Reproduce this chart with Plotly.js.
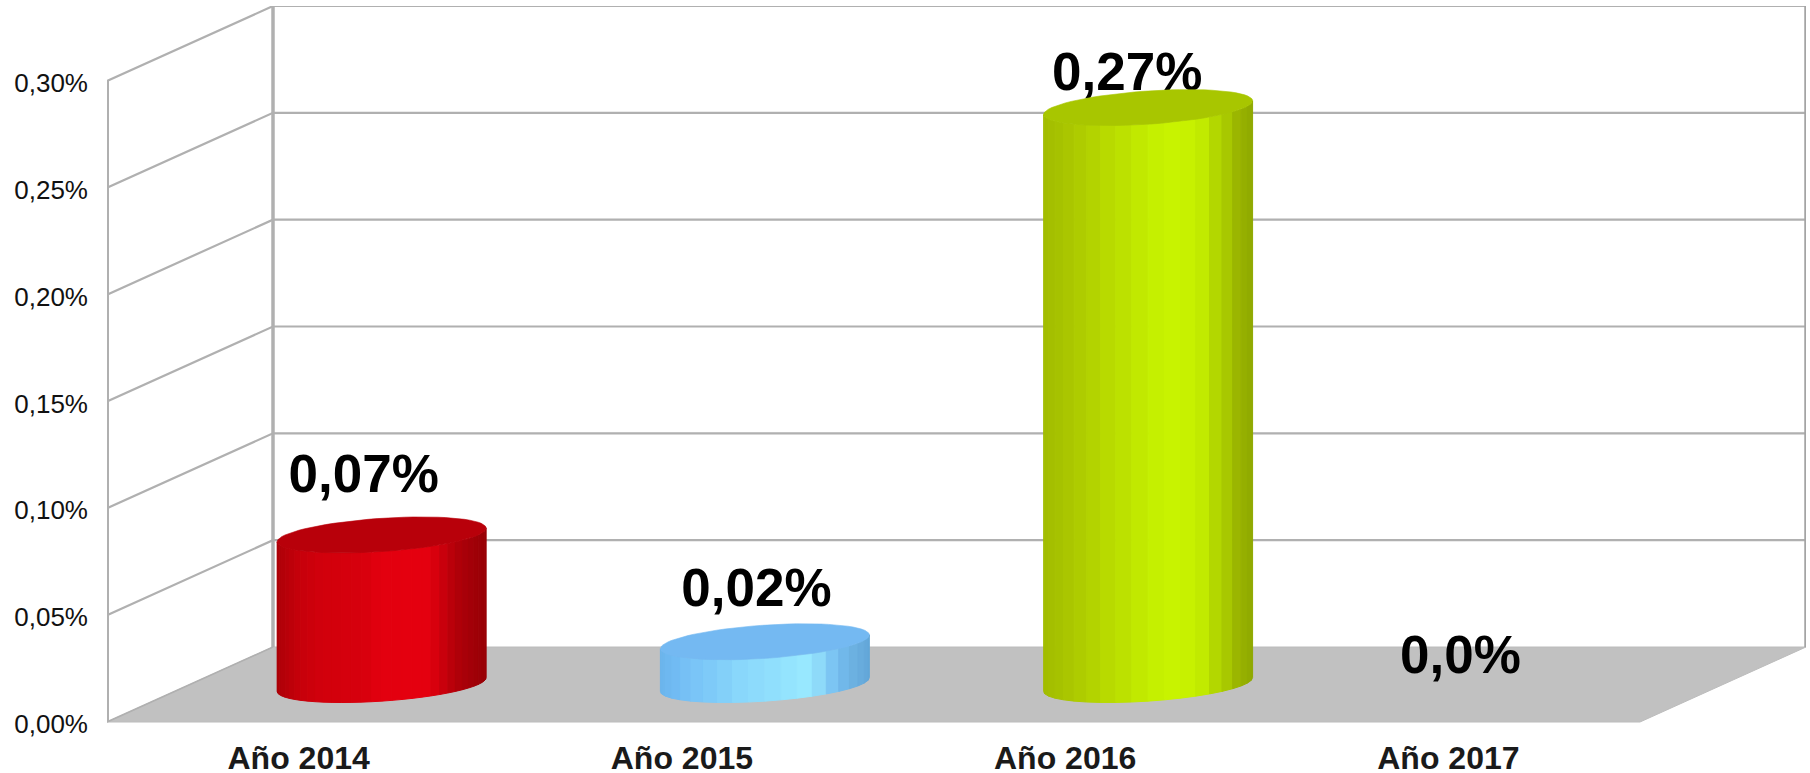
<!DOCTYPE html>
<html>
<head>
<meta charset="utf-8">
<script src="https://cdn.plot.ly/plotly-3.0.1.min.js"></script>
<style>html,body{margin:0;padding:0;background:#fff;}#chart{width:1810px;height:773px;}</style>
</head>
<body>
<div id="chart"></div>
<script>
// ---- data ----
const categories = ['Año 2014', 'Año 2015', 'Año 2016', 'Año 2017'];
const values = [0.07, 0.02, 0.27, 0];
const valueLabels = ['0,07%', '0,02%', '0,27%', '0,0%'];
const tickValues = [0, 0.05, 0.10, 0.15, 0.20, 0.25, 0.30];
const tickLabels = ['0,00%', '0,05%', '0,10%', '0,15%', '0,20%', '0,25%', '0,30%'];

// ---- styles ----
const topColors = ['#b8000a', '#74b9f2', '#a8c600', null];
const ramps = [
  [[0,'#ac0008'],[0.1,'#c4000a'],[0.2,'#d0000c'],[0.42,'#d8000d'],[0.5,'#e3000f'],[0.72,'#e4000f'],[0.78,'#d0000c'],[0.85,'#b4000a'],[0.92,'#a40008'],[1,'#980006']],
  [[0,'#6ab4ec'],[0.1,'#74bef5'],[0.4,'#8ad8fb'],[0.7,'#98e8ff'],[0.77,'#8cd8f8'],[0.85,'#74bcf0'],[0.93,'#6cb0e0'],[1,'#62a6d8']],
  [[0,'#a2bc00'],[0.1,'#a8c400'],[0.25,'#b4d400'],[0.45,'#c0e800'],[0.58,'#c8f400'],[0.74,'#c6f000'],[0.8,'#b8de00'],[0.88,'#a8c800'],[0.93,'#9ab400'],[1,'#8ea800']],
  null
];
const stripCounts = [32, 20, 20, 0];
const labelOffsetsPx = [[-18, 56.5], [-8.5, 49.5], [-21, 31], [-71, 25]];
const yTickNudgePx = 2;
const belowFloorPx = 4;

// ---- 3D frame (pixels on the page) ----
const frameLeft = 107, frameRight = 1640, frameBottom = 722, frameTop30 = 81;
const depthX = 166, depthY = 75;
const catPx = (frameRight - frameLeft) / categories.length;
const valPx = (frameTop30 - frameBottom) / -0.30;
const ux = p => p / catPx;
const uy = p => p / valPx;
const DX = ux(depthX), DY = uy(depthY);
const xMin = -0.5, xMax = categories.length - 0.5;

const hexToRgb = h => [1,3,5].map(i => parseInt(h.substr(i,2),16));
function rampColor(ramp, p) {
  for (let i = 1; i < ramp.length; i++) {
    if (p <= ramp[i][0]) {
      const a = ramp[i-1], b = ramp[i], f = (p - a[0]) / (b[0] - a[0]);
      const ca = hexToRgb(a[1]), cb = hexToRgb(b[1]);
      return 'rgb(' + ca.map((c,k) => Math.round(c + (cb[k]-c)*f)).join(',') + ')';
    }
  }
  return ramp[ramp.length-1][1];
}

const traces = [];
const gridColor = '#b0b0b0';
const addLine = (x, y, color, width) => traces.push({type:'scatter', mode:'lines', x, y, cliponaxis:false,
  hoverinfo:'skip', line:{color, width}});

// floor
traces.push({type:'scatter', mode:'lines', fill:'toself', fillcolor:'#c1c1c1', cliponaxis:false, hoverinfo:'skip',
  x:[xMin, xMax, xMax+DX, xMin+DX, xMin], y:[0, 0, DY, DY, 0], line:{color:'#bcbcbc', width:1}});

// gridlines: side wall diagonal then back wall horizontal
tickValues.forEach(v => {
  if (v === 0) addLine([xMin, xMin+DX], [0, DY], gridColor, 1.6);
  else addLine([xMin, xMin+DX, xMax+DX], [v, v+DY, v+DY], gridColor, 2.2);
});
// wall verticals
const topTick = tickValues[tickValues.length-1];
addLine([xMin, xMin], [0, topTick], '#b0b0b0', 4);
addLine([xMin+DX, xMin+DX], [DY, topTick+DY], '#b0b0b0', 3.5);
addLine([xMax+DX, xMax+DX], [DY, topTick+DY], '#a4a4a4', 3.5);

// value labels (drawn below the cylinders: the 2016 cap overlaps its label)
traces.push({type:'scatter', mode:'text', cliponaxis:false, hoverinfo:'skip',
  x: values.map((v,i) => i + DX/2 + ux(labelOffsetsPx[i][0])),
  y: values.map((v,i) => v + DY/2 + uy(labelOffsetsPx[i][1])),
  text: valueLabels, textposition:'middle center',
  textfont:{family:'"Liberation Sans", Arial, sans-serif', size:53, color:'#000', weight:700}});

// cylinders
const radius = ux(96.5), halfDx = ux(40), halfDy = uy(18);
const tangent = Math.atan2(40, 96.5);
values.forEach((v, i) => {
  if (!ramps[i]) return;
  const strips = stripCounts[i];
  const cx = i + DX/2, cy = DY/2;
  const ptX = t => cx + radius*Math.cos(t) + halfDx*Math.sin(t);
  const ptY = t => halfDy*Math.sin(t);
  const xLeft = ptX(tangent - Math.PI), xRight = ptX(tangent);
  for (let s = 0; s < strips; s++) {
    const t1 = tangent - Math.PI + Math.PI*s/strips;
    const t2 = tangent - Math.PI + Math.PI*(s+1)/strips;
    const xs = [], ys = [];
    const sub = 4;
    for (let k = 0; k <= sub; k++) { const t = t1+(t2-t1)*k/sub; xs.push(ptX(t)); ys.push(cy+ptY(t)); }
    for (let k = sub; k >= 0; k--) { const t = t1+(t2-t1)*k/sub; xs.push(ptX(t)); ys.push(cy+v+ptY(t)); }
    xs.push(xs[0]); ys.push(ys[0]);
    const p = ((ptX(t1)+ptX(t2))/2 - xLeft) / (xRight - xLeft);
    const col = rampColor(ramps[i], p);
    traces.push({type:'scatter', mode:'lines', fill:'toself', fillcolor:col, x:xs, y:ys, cliponaxis:false,
      hoverinfo:'skip', line:{color:col, width:1}});
  }
  const cxs = [], cys = [];
  for (let k = 0; k <= 72; k++) { const t = 2*Math.PI*k/72; cxs.push(ptX(t)); cys.push(cy+v+ptY(t)); }
  traces.push({type:'scatter', mode:'lines', fill:'toself', fillcolor:topColors[i], x:cxs, y:cys, cliponaxis:false,
    hoverinfo:'skip', line:{color:topColors[i], width:0.6}});
});

const layout = {
  width:1810, height:773,
  margin:{l:frameLeft, r:1810-(frameRight+depthX), t:frameTop30-depthY, b:773-frameBottom-belowFloorPx, pad:0},
  paper_bgcolor:'#fff', plot_bgcolor:'#fff',
  showlegend:false, hovermode:false,
  xaxis:{type:'linear', range:[xMin, xMax+DX], tickmode:'array',
    tickvals:categories.map((c,i)=>i), ticktext:categories,
    showgrid:false, zeroline:false, showline:false, ticks:'', ticklabelstandoff:10,
    tickfont:{family:'"Liberation Sans", Arial, sans-serif', size:32, color:'#1a1a1a', weight:700}},
  yaxis:{type:'linear', range:[-uy(belowFloorPx), topTick+DY], tickmode:'array',
    tickvals:tickValues.map(v => v - uy(yTickNudgePx)), ticktext:tickLabels,
    showgrid:false, zeroline:false, showline:false, ticks:'', ticklabelstandoff:18,
    tickfont:{family:'"Liberation Sans", Arial, sans-serif', size:26, color:'#111'}}
};
Plotly.newPlot('chart', traces, layout, {displayModeBar:false, staticPlot:true});
</script>
</body>
</html>
